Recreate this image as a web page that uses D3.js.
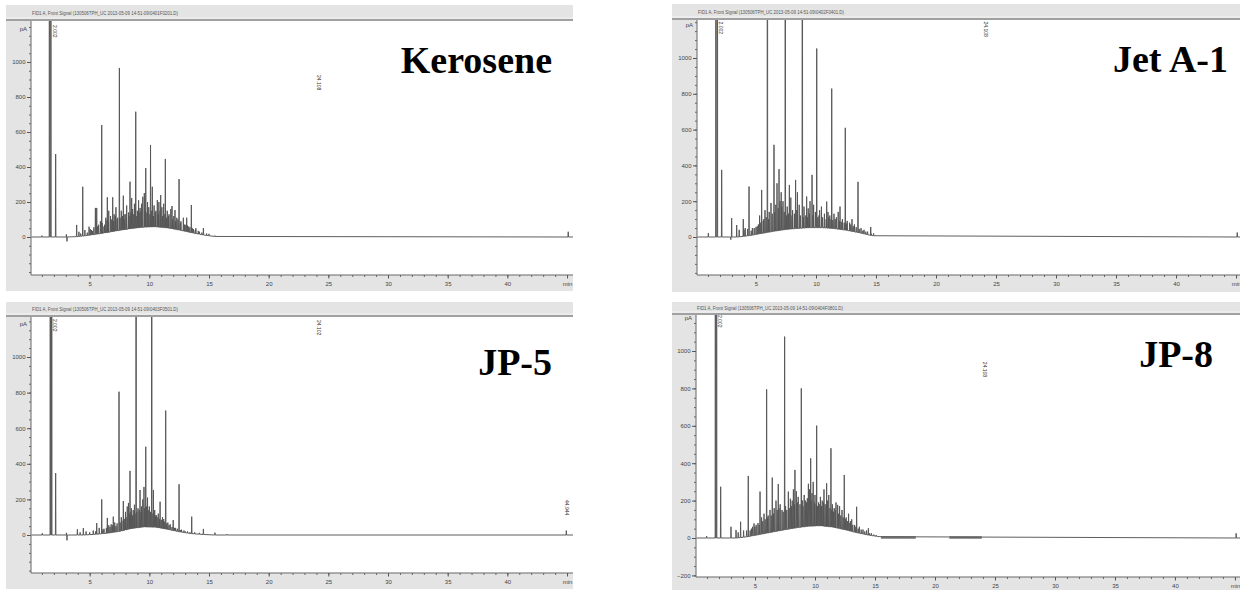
<!DOCTYPE html>
<html>
<head>
<meta charset="utf-8">
<script src="https://cdn.jsdelivr.net/npm/d3@7"></script>
<style>
body { margin: 0; background: #fff; }
svg { display: block; }
.tick text { font-family: "Liberation Sans", Arial, sans-serif; font-size: 6px; fill: #444; }
</style>
</head>
<body>
<svg id="chart" width="1240" height="590"></svg>
<script>

var titles = ["Kerosene", "Jet A-1", "JP-5", "JP-8"];
var headers = [
    "FID1 A, Front Signal (130506TPH_UC 2013-05-09 14-51-09\\0401F0201.D)",
    "FID1 A, Front Signal (130506TPH_UC 2013-05-09 14-51-09\\0402F0401.D)",
    "FID1 A, Front Signal (130506TPH_UC 2013-05-09 14-51-09\\0403F0501.D)",
    "FID1 A, Front Signal (130506TPH_UC 2013-05-09 14-51-09\\0404F0801.D)"
];

var xTicks = [5, 10, 15, 20, 25, 30, 35, 40];
var yTicks = [0, 200, 400, 600, 800, 1000];
var yTicksJp8 = [-200, 0, 200, 400, 600, 800, 1000];

// [retention time (min), signal (pA)]
var keroseneMajor = [[1.0,8],[1.63,6000],[1.75,6000],[2.15,474],[3.05,15],[3.1,-25],[3.91,69],[4.42,287],[4.95,59],
    [5.48,166],[5.59,166],[6.01,640],[6.48,227],[6.93,227],[7.49,966],[7.82,236],[8.38,316],[8.52,223],[8.86,716],
    [9.22,166],[9.58,251],[9.70,394],[10.1,526],[10.25,287],[10.67,211],[10.95,240],[11.34,446],[11.9,177],
    [12.15,154],[12.49,331],[13.13,110],[13.52,183],[14.53,51],[15.5,8],[45.1,30]];
var keroseneMinor = [[4.1,30],[4.25,20],[4.6,40],[4.8,25],[5.05,45],[5.25,35],[5.75,70],[5.9,90],[6.2,60],[6.35,110],
    [6.6,150],[6.75,120],[7.05,130],[7.2,170],[7.35,110],[7.65,150],[7.95,130],[8.1,180],[8.25,140],[8.6,160],
    [8.75,190],[9.0,150],[9.1,210],[9.35,190],[9.45,230],[9.85,200],[9.95,170],[10.4,180],[10.55,150],[10.8,200],
    [11.05,170],[11.2,190],[11.5,150],[11.65,130],[11.8,160],[12.05,120],[12.3,110],[12.65,90],[12.85,110],
    [13.0,70],[13.3,60],[13.7,45],[13.9,50],[14.2,30],[14.8,20],[15.0,18]];
var keroseneSmall = [[5.15,40],[5.35,55],[5.65,60],[6.05,80],[6.25,70],[6.45,95],[6.55,85],[6.85,100],[7.0,90],
    [7.15,120],[7.3,100],[7.55,110],[7.75,120],[7.9,100],[8.05,130],[8.3,120],[8.45,140],[8.7,130],[8.95,120],
    [9.15,140],[9.3,150],[9.65,150],[9.8,140],[10.05,130],[10.2,150],[10.35,120],[10.5,140],[10.75,130],[10.9,150],
    [11.1,120],[11.3,130],[11.45,110],[11.6,120],[11.95,100],[12.2,90],[12.4,100],[12.6,80],[12.95,70],[13.2,65],
    [13.4,55],[13.6,50],[13.85,40],[14.1,35],[14.4,25]];
var keroseneHump = [[3.6,0],[4.5,6],[5.5,15],[6.5,26],[7.5,38],[8.5,48],[9.5,56],[10.5,58],[11.5,52],[12.5,40],
    [13.5,25],[14.5,12],[15.3,4],[16.2,0]];
var keroseneTags = [[2.002, 1211, "2.002"], [24.108, 926, "24.108"]];

var jetMajor = [[1.03,22],[1.66,6000],[1.78,6000],[2.14,375],[2.9,-15],[2.97,106],[3.39,67],[3.94,100],[4.42,282],
    [5.47,263],[5.95,6000],[6.5,515],[6.92,379],[7.44,6000],[7.78,291],[8.3,319],[8.86,6000],[9.22,226],[9.67,347],
    [10.06,1053],[10.89,198],[11.31,829],[12.0,170],[12.44,610],[13.5,308],[14.56,56],[45.1,25]];
var jetMinor = [[3.6,40],[4.1,50],[4.6,35],[4.85,50],[5.1,60],[5.3,120],[5.6,90],[5.75,150],[6.1,140],[6.25,190],
    [6.65,180],[6.75,300],[7.1,250],[7.25,200],[7.6,170],[7.9,220],[8.05,150],[8.45,250],[8.6,180],[9.0,170],
    [9.35,160],[9.5,200],[9.8,180],[9.95,140],[10.3,150],[10.45,170],[10.7,130],[11.0,140],[11.15,120],[11.5,130],
    [11.7,110],[11.85,140],[12.2,100],[12.6,90],[12.8,80],[13.0,100],[13.2,70],[13.75,50],[14.0,40],[14.3,30],[14.8,20]];
var jetSmall = [[4.0,40],[4.3,45],[4.7,50],[5.0,55],[5.2,70],[5.4,80],[5.65,100],[5.85,110],[6.05,100],[6.35,130],
    [6.55,140],[6.85,160],[7.0,200],[7.15,170],[7.35,140],[7.55,120],[7.7,130],[8.0,120],[8.2,130],[8.4,150],
    [8.7,120],[8.95,110],[9.15,120],[9.3,110],[9.45,130],[9.75,120],[10.15,110],[10.25,120],[10.55,110],[10.85,100],
    [11.05,110],[11.25,100],[11.4,95],[11.6,100],[11.95,90],[12.1,85],[12.35,80],[12.55,75],[12.9,70],[13.1,60],
    [13.35,55],[13.6,45],[13.9,35],[14.15,30],[14.6,18]];
var jetHump = [[3.5,0],[4.5,8],[5.5,20],[6.5,32],[7.5,42],[8.5,48],[9.5,52],[10.5,52],[11.5,47],[12.5,38],
    [13.5,25],[14.5,10],[15.2,3],[16,0]];
var jetTags = [[2.002, 1204, "2.002"], [24.108, 1204, "24.108"]];

var jp5Major = [[1.03,10],[1.7,6000],[1.82,6000],[2.15,348],[3.05,12],[3.1,-30],[3.97,32],[4.47,39],[5.59,67],
    [6.01,200],[6.48,96],[6.98,103],[7.46,805],[7.82,191],[8.38,360],[8.89,6000],[9.22,253],[9.7,496],[10.2,6000],
    [10.34,253],[10.9,187],[11.37,699],[12.0,84],[12.49,285],[13.55,103],[14.53,34],[15.5,13],[16.5,5],[44.94,25]];
var jp5Minor = [[4.2,15],[4.7,20],[5.0,15],[5.3,25],[5.8,40],[6.2,35],[6.6,55],[6.8,60],[7.1,70],[7.3,65],
    [7.65,100],[8.0,130],[8.15,160],[8.25,180],[8.5,150],[8.65,140],[8.75,170],[9.05,150],[9.35,160],[9.45,200],
    [9.55,270],[9.85,210],[10.0,160],[10.45,140],[10.6,110],[10.75,120],[11.1,100],[11.2,90],[11.55,70],[11.75,60],
    [12.2,40],[12.7,30],[12.9,25],[13.2,20],[13.8,15],[14.2,12]];
var jp5Small = [[5.5,20],[6.1,30],[6.4,40],[6.7,45],[6.9,55],[7.2,50],[7.55,70],[7.7,80],[7.9,90],[8.05,100],
    [8.35,120],[8.45,130],[8.6,110],[8.8,120],[8.95,130],[9.15,140],[9.3,130],[9.6,150],[9.75,160],[9.9,140],
    [10.1,130],[10.3,120],[10.5,110],[10.65,100],[10.85,90],[11.0,85],[11.25,75],[11.45,65],[11.65,55],[11.9,45],
    [12.1,40],[12.35,35],[12.6,28],[13.0,20],[13.4,15]];
var jp5Hump = [[4.5,0],[5.5,4],[6.5,10],[7.5,20],[8.5,36],[9.5,45],[10.5,44],[11.5,32],[12.5,18],[13.5,8],
    [14.5,3],[15.5,0]];
var jp5Tags = [[2.002, 1214, "2.002"], [24.102, 1208, "24.102"], [44.944, 197, "44.944"]];

var jp8Major = [[0.97,10],[1.7,6000],[1.8,6000],[2.14,274],[3.0,60],[3.42,43],[3.8,87],[4.44,332],[4.92,78],
    [5.42,248],[5.97,795],[6.44,323],[6.94,289],[7.47,1077],[7.78,248],[8.33,364],[8.86,800],[9.36,212],[9.64,426],
    [10.14,601],[10.97,293],[11.33,480],[11.89,177],[12.44,337],[13.06,100],[13.47,167],[14.45,52],[15.4,10],[45.1,25]];
var jp8Minor = [[3.6,30],[4.05,40],[4.6,40],[4.8,60],[5.1,70],[5.25,80],[5.55,110],[5.75,130],[6.1,120],[6.25,150],
    [6.6,160],[6.75,200],[7.1,180],[7.25,150],[7.55,170],[7.95,210],[8.1,200],[8.2,260],[8.45,250],[8.6,220],
    [8.95,200],[9.1,230],[9.45,290],[9.55,260],[9.75,240],[9.85,300],[10.0,230],[10.3,190],[10.45,220],[10.6,200],
    [10.75,260],[11.05,200],[11.15,230],[11.45,180],[11.6,160],[11.75,190],[12.05,170],[12.25,150],[12.6,110],
    [12.8,130],[12.95,90],[13.3,70],[13.7,60],[14.0,45],[14.3,40],[14.7,25],[15.1,15]];
var jp8Small = [[4.3,40],[4.7,50],[5.0,60],[5.35,70],[5.65,90],[5.85,100],[6.05,110],[6.35,120],[6.55,130],
    [6.85,150],[7.0,160],[7.35,140],[7.65,150],[7.85,160],[8.05,170],[8.3,180],[8.55,190],[8.75,180],[9.0,170],
    [9.2,200],[9.3,190],[9.7,200],[9.95,190],[10.1,180],[10.2,170],[10.4,180],[10.55,170],[10.7,190],[10.85,180],
    [11.0,170],[11.25,160],[11.4,150],[11.55,140],[11.7,150],[11.95,130],[12.15,120],[12.35,110],[12.55,100],
    [12.7,90],[12.9,80],[13.15,70],[13.4,60],[13.6,50],[13.85,45],[14.15,35],[14.55,25],[14.9,18]];
var jp8Hump = [[3.5,0],[4.5,8],[5.5,20],[6.5,32],[7.5,44],[8.5,55],[9.5,63],[10.5,65],[11.5,58],[12.5,44],
    [13.5,28],[14.5,15],[15.5,6],[16.5,2],[17.5,0]];
var jp8Tags = [[2.002, 1193, "2.002"], [24.108, 942, "24.108"]];
// noisy stretches of baseline, [from, to] in min
var jp8Bands = [[15.5, 18.4], [21.2, 23.9]];


var draw = {

    // panel boxes in page pixels
    layout: [
        {left: 6, right: 573, top: 5, head: 20, plotLeft: 31, plotTop: 21, plotBottom: 275, bottom: 291,
         xRange: [30, 573], xMax: 45.5, y0: 237, y1000: 62, titleX: 552, titleY: 73, headX: 32, headY: 15},
        {left: 672, right: 1240, top: 4, head: 19, plotLeft: 697, plotTop: 20, plotBottom: 275, bottom: 292,
         xRange: [696, 1240], xMax: 45.33, y0: 237, y1000: 58, titleX: 1228, titleY: 72, headX: 698, headY: 14},
        {left: 6, right: 573, top: 302, head: 316, plotLeft: 31, plotTop: 317, plotBottom: 573, bottom: 589,
         xRange: [30, 573], xMax: 45.5, y0: 535, y1000: 357, titleX: 552, titleY: 375, headX: 32, headY: 311},
        {left: 672, right: 1240, top: 302, head: 314, plotLeft: 696, plotTop: 315, plotBottom: 577, bottom: 590,
         xRange: [695, 1240], xMax: 45.42, y0: 538, y1000: 351, titleX: 1213, titleY: 367, headX: 697, headY: 310}
    ],

    index: function () {
        var panels = [
            {peaks: keroseneMajor.concat(keroseneMinor, keroseneSmall), hump: keroseneHump, tags: keroseneTags, bands: [], yLabels: yTicks},
            {peaks: jetMajor.concat(jetMinor, jetSmall), hump: jetHump, tags: jetTags, bands: [], yLabels: yTicks},
            {peaks: jp5Major.concat(jp5Minor, jp5Small), hump: jp5Hump, tags: jp5Tags, bands: [], yLabels: yTicks},
            {peaks: jp8Major.concat(jp8Minor, jp8Small), hump: jp8Hump, tags: jp8Tags, bands: jp8Bands, yLabels: yTicksJp8}
        ];
        var svg = d3.select("#chart");
        for (var i = 0; i < panels.length; i++) {
            draw.panel(svg, i, panels[i], draw.layout[i]);
        }
    },

    tracePoints: function (peaks, hump) {
        var base = d3.scaleLinear()
            .domain(hump.map(function (d) { return d[0]; }))
            .range(hump.map(function (d) { return d[1]; }))
            .clamp(true);
        var sorted = peaks.slice().sort(function (a, b) { return a[0] - b[0]; });
        var pts = [[0, 0]];
        sorted.forEach(function (p) {
            var b = base(p[0]);
            pts.push([p[0] - 0.022, b], [p[0], p[1]], [p[0] + 0.022, b]);
        });
        pts.push([46, 0]);
        return pts;
    },

    panel: function (svg, i, p, L) {
        var g = svg.append("g").attr("class", "panel-" + i);

        var x = d3.scaleLinear().domain([0, L.xMax]).range(L.xRange);
        var y = d3.scaleLinear().domain([0, 1000]).range([L.y0, L.y1000]);

        // frame: grey window, header bar, white plot
        g.append("rect").attr("x", L.left).attr("y", L.top)
            .attr("width", L.right - L.left).attr("height", L.bottom - L.top)
            .attr("fill", "#e4e4e4");
        g.append("rect").attr("x", L.left).attr("y", L.head - 3)
            .attr("width", L.right - L.left).attr("height", 2.5)
            .attr("fill", "#ececec");
        g.append("line").attr("x1", L.left).attr("x2", L.right)
            .attr("y1", L.head).attr("y2", L.head)
            .attr("stroke", "#8a8a8a").attr("stroke-width", 1.6);
        g.append("rect").attr("x", L.plotLeft).attr("y", L.head + 1)
            .attr("width", L.right - L.plotLeft).attr("height", L.plotBottom - L.head - 1)
            .attr("fill", "#fff");

        g.append("text")
            .attr("x", L.headX).attr("y", L.headY)
            .attr("textLength", 146).attr("lengthAdjust", "spacingAndGlyphs")
            .style("font-family", "Liberation Sans, Arial, sans-serif")
            .style("font-size", "5px").attr("fill", "#555")
            .text(headers[i]);

        // y axis
        var yMinor = d3.range(-200, 1250, 50).filter(function (v) {
            return y(v) >= L.plotTop + 2 && y(v) <= L.plotBottom;
        });
        g.append("g").attr("transform", "translate(" + L.plotLeft + ",0)")
            .call(d3.axisLeft(y).tickValues(yMinor).tickSize(2).tickFormat(""))
            .call(function (a) { a.select(".domain").remove(); a.selectAll("line").attr("stroke", "#666"); });
        g.append("g").attr("transform", "translate(" + L.plotLeft + ",0)")
            .call(d3.axisLeft(y).tickValues(p.yLabels).tickSize(4).tickPadding(1.5).tickFormat(d3.format("d")))
            .call(function (a) { a.select(".domain").remove(); a.selectAll("line").attr("stroke", "#555"); });
        g.append("text").attr("x", L.plotLeft - 4).attr("y", L.y1000 - 31)
            .attr("text-anchor", "end")
            .style("font-family", "Liberation Sans, Arial, sans-serif")
            .style("font-size", "6px").attr("fill", "#444")
            .text("pA");
        g.append("line").attr("x1", L.plotLeft).attr("x2", L.plotLeft)
            .attr("y1", L.head + 1).attr("y2", L.plotBottom)
            .attr("stroke", "#666").attr("stroke-width", 1);

        // x axis
        var xMinor = d3.range(1, 46, 1);
        g.append("g").attr("transform", "translate(0," + L.plotBottom + ")")
            .call(d3.axisBottom(x).tickValues(xMinor).tickSize(2).tickFormat(""))
            .call(function (a) { a.select(".domain").remove(); a.selectAll("line").attr("stroke", "#666"); });
        g.append("g").attr("transform", "translate(0," + L.plotBottom + ")")
            .call(d3.axisBottom(x).tickValues(xTicks.concat([45])).tickSize(3.5).tickPadding(3)
                .tickFormat(function (d) { return d === 45 ? "min" : d; }))
            .call(function (a) { a.select(".domain").remove(); a.selectAll("line").attr("stroke", "#555"); });
        g.append("line").attr("x1", L.plotLeft).attr("x2", L.right)
            .attr("y1", L.plotBottom).attr("y2", L.plotBottom)
            .attr("stroke", "#666").attr("stroke-width", 1);

        // signal trace
        var clipId = "clip" + i;
        g.append("clipPath").attr("id", clipId)
            .append("rect").attr("x", L.plotLeft + 0.5).attr("y", L.head + 1)
            .attr("width", L.right - L.plotLeft - 0.5).attr("height", L.plotBottom - L.head - 1.5);

        var plot = g.append("g").attr("clip-path", "url(#" + clipId + ")");

        var line = d3.line()
            .x(function (d) { return x(d[0]); })
            .y(function (d) { return y(d[1]); });

        plot.selectAll("line.band")
            .data(p.bands)
            .enter().append("line")
            .attr("class", "band")
            .attr("x1", function (d) { return x(d[0]); })
            .attr("x2", function (d) { return x(d[1]); })
            .attr("y1", y(3)).attr("y2", y(3))
            .attr("stroke", "#777").attr("stroke-width", 2.6);

        plot.append("path")
            .datum(draw.tracePoints(p.peaks, p.hump))
            .attr("d", line)
            .attr("fill", "none")
            .attr("stroke", "#555")
            .attr("stroke-width", 0.95)
            .attr("stroke-linejoin", "miter")
            .attr("stroke-miterlimit", 2);

        // retention time tags
        plot.selectAll("text.tag")
            .data(p.tags)
            .enter().append("text")
            .attr("class", "tag")
            .attr("transform", function (d) { return "translate(" + (x(d[0]) - 1.5) + "," + y(d[1]) + ") rotate(90)"; })
            .attr("dy", "-0.1em")
            .style("font-family", "Liberation Sans, Arial, sans-serif")
            .style("font-size", "5px").attr("fill", "#333")
            .text(function (d) { return d[2]; });

        g.append("text")
            .attr("x", L.titleX).attr("y", L.titleY)
            .attr("text-anchor", "end")
            .style("font-family", "Liberation Serif, 'Times New Roman', serif")
            .style("font-weight", "bold")
            .style("font-size", "38px")
            .attr("fill", "#000")
            .text(titles[i]);
    }
};

draw.index();
</script>
</body>
</html>
